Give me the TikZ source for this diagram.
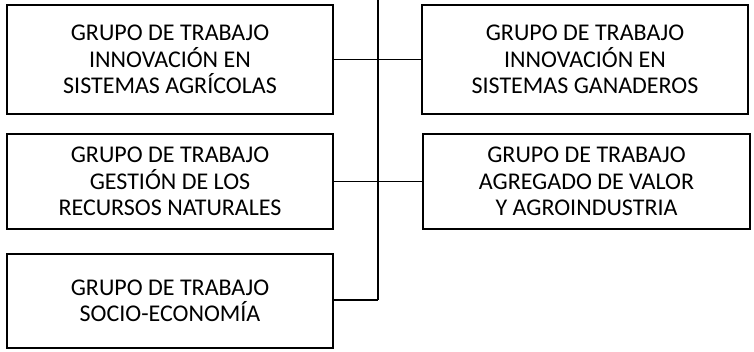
\documentclass[tikz,border=0pt]{standalone}
\usepackage{fontspec}
\setmainfont{Carlito}
\begin{document}
\begin{tikzpicture}[x=1pt,y=-1pt,
  gbox/.style={draw=black,line width=1.8pt,rectangle,minimum width=326pt,
    align=center,inner sep=0pt,font=\fontsize{24}{26.5}\selectfont},
  conn/.style={draw=black,line width=1.5pt}]
\useasboundingbox (0,0) rectangle (754,352);
\node[gbox,minimum height=109pt] (b1) at (170,59.5) {GRUPO DE TRABAJO\\INNOVACIÓN EN\\SISTEMAS AGRÍCOLAS};
\node[gbox,minimum height=109pt] (r1) at (585,59.5) {GRUPO DE TRABAJO\\INNOVACIÓN EN\\SISTEMAS GANADEROS};
\node[gbox,minimum height=95pt] (b2) at (170,181.5) {GRUPO DE TRABAJO\\GESTIÓN DE LOS\\RECURSOS NATURALES};
\node[gbox,minimum height=95pt,minimum width=327pt] (r2) at (586.5,181.5) {GRUPO DE TRABAJO\\AGREGADO DE VALOR\\Y AGROINDUSTRIA};
\node[gbox,minimum height=94pt] (b3) at (170,301) {GRUPO DE TRABAJO\\SOCIO-ECONOMÍA};
\coordinate (top) at (378,0);
\coordinate (bot) at (378,300);
\draw[conn] (top) -- (bot);
\draw[conn] (b1.east) -- (r1.west);
\draw[conn] (b2.east) -- (r2.west);
\draw[conn] (b3.east |- bot) -- (bot);
\end{tikzpicture}
\end{document}
